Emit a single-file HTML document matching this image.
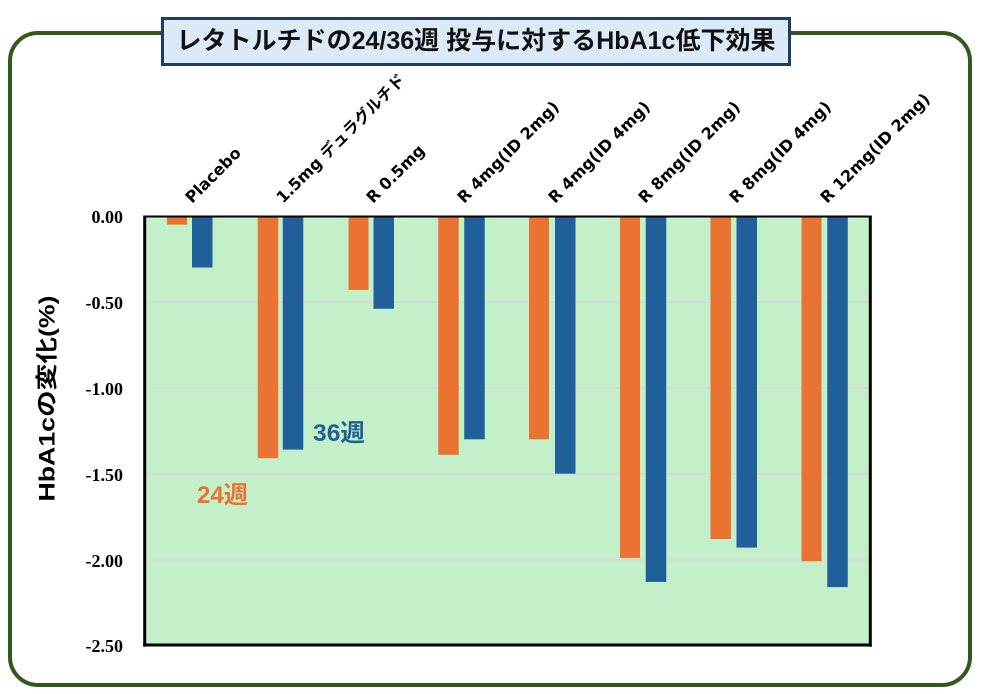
<!DOCTYPE html>
<html>
<head>
<meta charset="utf-8">
<style>
  html, body { margin: 0; padding: 0; background: #ffffff; }
  body { width: 983px; height: 694px; overflow: hidden; }
  svg { display: block; }
</style>
</head>
<body>
<svg width="983" height="694" viewBox="0 0 983 694" xmlns="http://www.w3.org/2000/svg">
  <!-- outer rounded green frame -->
  <rect x="10" y="33" width="960" height="652" rx="28" ry="28" fill="#ffffff" stroke="#2e5a1c" stroke-width="4"/>

  <!-- title box -->
  <rect x="162.5" y="18.5" width="627" height="46" fill="#dce9f6" stroke="#1f3d63" stroke-width="3"/>
  <text x="476" y="49" text-anchor="middle" font-family="'Liberation Sans', 'Noto Sans CJK JP', sans-serif" font-weight="bold" font-size="25" fill="#111111" textLength="599" lengthAdjust="spacingAndGlyphs">レタトルチドの24/36週 投与に対するHbA1c低下効果</text>

  <!-- plot area -->
  <rect x="145" y="216" width="725" height="429" fill="#c3f0c9"/>
  <!-- gridlines -->
  <g stroke="#d9d6d9" stroke-width="1.5">
    <line x1="145" y1="302" x2="870" y2="302"/>
    <line x1="145" y1="388" x2="870" y2="388"/>
    <line x1="145" y1="474" x2="870" y2="474"/>
    <line x1="145" y1="560" x2="870" y2="560"/>
  </g>

  <!-- bars: orange = 24週, blue = 36週 -->
  <g fill="#ea7233">
    <rect x="167" y="216" width="20" height="8.6"/>
    <rect x="257.75" y="216" width="20.5" height="242.2"/>
    <rect x="348.5" y="216" width="20" height="73.9"/>
    <rect x="438.25" y="216" width="20.5" height="238.8"/>
    <rect x="529" y="216" width="20" height="223.3"/>
    <rect x="620" y="216" width="20" height="341.9"/>
    <rect x="710.5" y="216" width="20.5" height="323"/>
    <rect x="801.5" y="216" width="20" height="345.3"/>
  </g>
  <g fill="#215f9a">
    <rect x="192" y="216" width="20.5" height="51.5"/>
    <rect x="282.75" y="216" width="20.5" height="233.6"/>
    <rect x="373.5" y="216" width="20.5" height="92.8"/>
    <rect x="464.25" y="216" width="20.5" height="223.3"/>
    <rect x="555" y="216" width="20.5" height="257.7"/>
    <rect x="645.75" y="216" width="20.5" height="365.9"/>
    <rect x="736.5" y="216" width="20.5" height="331.6"/>
    <rect x="827.25" y="216" width="20.5" height="371.1"/>
  </g>

  <!-- plot border -->
  <line x1="144" y1="216.5" x2="871" y2="216.5" stroke="#000" stroke-width="2"/>
  <line x1="144.7" y1="215.5" x2="144.7" y2="646.7" stroke="#000" stroke-width="3"/>
  <line x1="143.3" y1="645" x2="871.7" y2="645" stroke="#000" stroke-width="3"/>
  <line x1="870.3" y1="215.5" x2="870.3" y2="646.7" stroke="#000" stroke-width="3"/>

  <!-- y tick labels -->
  <g font-family="'Liberation Serif', serif" font-weight="bold" font-size="18" fill="#000" text-anchor="end">
    <text x="123" y="223">0.00</text>
    <text x="123" y="309">-0.50</text>
    <text x="123" y="395">-1.00</text>
    <text x="123" y="481">-1.50</text>
    <text x="123" y="566.8">-2.00</text>
    <text x="123" y="652">-2.50</text>
  </g>

  <!-- y axis title -->
  <text transform="translate(54.5,398.5) rotate(-90)" x="0" y="0" text-anchor="middle" font-family="'Liberation Sans', 'Noto Sans CJK JP', sans-serif" font-weight="bold" font-size="22" fill="#000" textLength="206" lengthAdjust="spacingAndGlyphs">HbA1cの変化(%)</text>

  <!-- category labels -->
  <g font-family="'DejaVu Sans', 'Noto Sans CJK JP', sans-serif" font-weight="bold" font-size="16" fill="#000">
    <text x="192" y="204" transform="rotate(-45 192 204)">Placebo</text>
    <text x="283" y="204" transform="rotate(-45 283 204)">1.5mg デュラグルチド</text>
    <text x="373" y="204" transform="rotate(-45 373 204)">R 0.5mg</text>
    <text x="464" y="204" transform="rotate(-45 464 204)">R 4mg(ID 2mg)</text>
    <text x="555" y="204" transform="rotate(-45 555 204)">R 4mg(ID 4mg)</text>
    <text x="645" y="204" transform="rotate(-45 645 204)">R 8mg(ID 2mg)</text>
    <text x="736" y="204" transform="rotate(-45 736 204)">R 8mg(ID 4mg)</text>
    <text x="827" y="204" transform="rotate(-45 827 204)">R 12mg(ID 2mg)</text>
  </g>

  <!-- series annotations -->
  <text x="313" y="441" font-family="'Liberation Sans', 'Noto Sans CJK JP', sans-serif" font-weight="bold" font-size="24" fill="#215f9a" textLength="52" lengthAdjust="spacingAndGlyphs">36週</text>
  <text x="197" y="503" font-family="'Liberation Sans', 'Noto Sans CJK JP', sans-serif" font-weight="bold" font-size="24" fill="#ea7233" textLength="51" lengthAdjust="spacingAndGlyphs">24週</text>
</svg>
</body>
</html>
